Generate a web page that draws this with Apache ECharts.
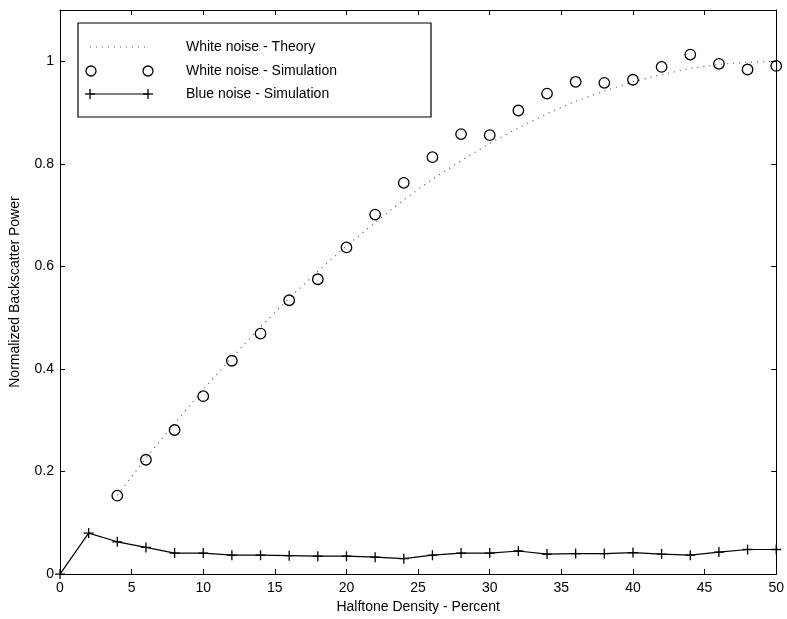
<!DOCTYPE html>
<html>
<head>
<meta charset="utf-8">
<script src="https://cdn.jsdelivr.net/npm/echarts@6/dist/echarts.min.js"></script>
<style>html,body{margin:0;padding:0;background:#fff}#c{width:787px;height:619px}</style>
</head>
<body>
<div id="c"></div>
<script>
// Data
const simX = [4,6,8,10,12,14,16,18,20,22,24,26,28,30,32,34,36,38,40,42,44,46,48,50];
const whiteTheory = [0.154,0.226,0.294,0.36,0.422,0.482,0.538,0.59,0.64,0.686,0.73,0.77,0.806,0.84,0.87,0.898,0.922,0.942,0.96,0.974,0.986,0.994,0.998,1.0];
const whiteSim = [0.153,0.223,0.281,0.347,0.416,0.469,0.534,0.575,0.637,0.701,0.763,0.813,0.858,0.856,0.904,0.937,0.96,0.958,0.964,0.989,1.013,0.995,0.984,0.991];
const blueX = [0,2,4,6,8,10,12,14,16,18,20,22,24,26,28,30,32,34,36,38,40,42,44,46,48,50];
const blueSim = [0,0.080,0.063,0.052,0.041,0.041,0.037,0.037,0.036,0.035,0.035,0.033,0.030,0.037,0.041,0.041,0.045,0.039,0.040,0.040,0.042,0.039,0.037,0.043,0.048,0.048];
const legendNames = ['White noise - Theory','White noise - Simulation','Blue noise - Simulation'];
const xTitle = 'Halftone Density - Percent';
const yTitle = 'Normalized Backscatter Power';

const FONT = 'Liberation Sans, Arial, Helvetica, sans-serif';
const chart = echarts.init(document.getElementById('c'), null, {renderer:'canvas'});
const zip = (xs, ys) => xs.map((x,i)=>[x, ys[i]]);
const plusPath = 'path://M0,-5L0,5M-5,0L5,0';

const axisCommon = {
  axisLine:{show:true, onZero:false, lineStyle:{color:'#000', width:1}},
  axisTick:{show:true, inside:true, length:5, lineStyle:{color:'#000'}},
  splitLine:{show:false}
};

const option = {
  animation:false,
  backgroundColor:'#fff',
  grid:{left:59, right:8, top:10, bottom:43, containLabel:false},
  xAxis:[
    Object.assign({type:'value', min:0, max:50, interval:5, position:'bottom',
      name:xTitle, nameLocation:'middle', nameGap:24,
      nameTextStyle:{color:'#000', fontSize:14, fontFamily:FONT},
      axisLabel:{color:'#000', fontSize:14, fontFamily:FONT, margin:7}}, axisCommon),
    Object.assign({type:'value', min:0, max:50, interval:5, position:'top',
      axisLabel:{show:false}}, axisCommon)
  ],
  yAxis:[
    Object.assign({type:'value', min:0, max:1.1, interval:0.2, position:'left',
      name:yTitle, nameLocation:'middle', nameGap:38,
      nameTextStyle:{color:'#000', fontSize:14, fontFamily:FONT},
      axisLabel:{color:'#000', fontSize:14, fontFamily:FONT, margin:6, showMaxLabel:false}}, axisCommon),
    Object.assign({type:'value', min:0, max:1.1, interval:0.2, position:'right',
      axisLabel:{show:false}}, axisCommon)
  ],
  series:[
    {name:legendNames[0], type:'line', data:zip(simX, whiteTheory), showSymbol:false, symbol:'none',
      lineStyle:{color:'#555', width:1.2, type:[1,5]}, z:2},
    {name:legendNames[1], type:'line', data:zip(simX, whiteSim), symbol:'circle', symbolSize:10.5,
      lineStyle:{width:0, opacity:0},
      itemStyle:{color:'rgba(255,255,255,0)', borderColor:'#000', borderWidth:1.3}, z:3},
    {name:legendNames[2], type:'line', data:zip(blueX, blueSim), symbol:plusPath, symbolSize:10,
      lineStyle:{color:'#000', width:1.2},
      itemStyle:{color:'none', borderColor:'#000', borderWidth:1.3}, z:4}
  ],
  graphic:[
    {type:'rect', shape:{x:78, y:23, width:353, height:94}, style:{fill:'#fff', stroke:'#000', lineWidth:1.2}, z:10},
    {type:'line', shape:{x1:90, y1:47, x2:148, y2:47}, style:{stroke:'#555', lineWidth:1.2, lineDash:[1,5]}, z:11},
    {type:'circle', shape:{cx:91, cy:71, r:5}, style:{fill:'#fff', stroke:'#000', lineWidth:1.3}, z:11},
    {type:'circle', shape:{cx:148, cy:71, r:5}, style:{fill:'#fff', stroke:'#000', lineWidth:1.3}, z:11},
    {type:'line', shape:{x1:90, y1:94, x2:148, y2:94}, style:{stroke:'#000', lineWidth:1.2}, z:11},
    {type:'line', shape:{x1:90, y1:89, x2:90, y2:99}, style:{stroke:'#000', lineWidth:1.3}, z:11},
    {type:'line', shape:{x1:148, y1:89, x2:148, y2:99}, style:{stroke:'#000', lineWidth:1.3}, z:11},
    {type:'line', shape:{x1:85, y1:94, x2:95, y2:94}, style:{stroke:'#000', lineWidth:1.3}, z:11},
    {type:'line', shape:{x1:143, y1:94, x2:153, y2:94}, style:{stroke:'#000', lineWidth:1.3}, z:11},
    {type:'text', x:186, y:47, style:{text:legendNames[0], fill:'#000', font:'14px '+FONT, textVerticalAlign:'middle'}, z:11},
    {type:'text', x:186, y:71, style:{text:legendNames[1], fill:'#000', font:'14px '+FONT, textVerticalAlign:'middle'}, z:11},
    {type:'text', x:186, y:94, style:{text:legendNames[2], fill:'#000', font:'14px '+FONT, textVerticalAlign:'middle'}, z:11}
  ]
};
chart.setOption(option);
</script>
</body>
</html>
